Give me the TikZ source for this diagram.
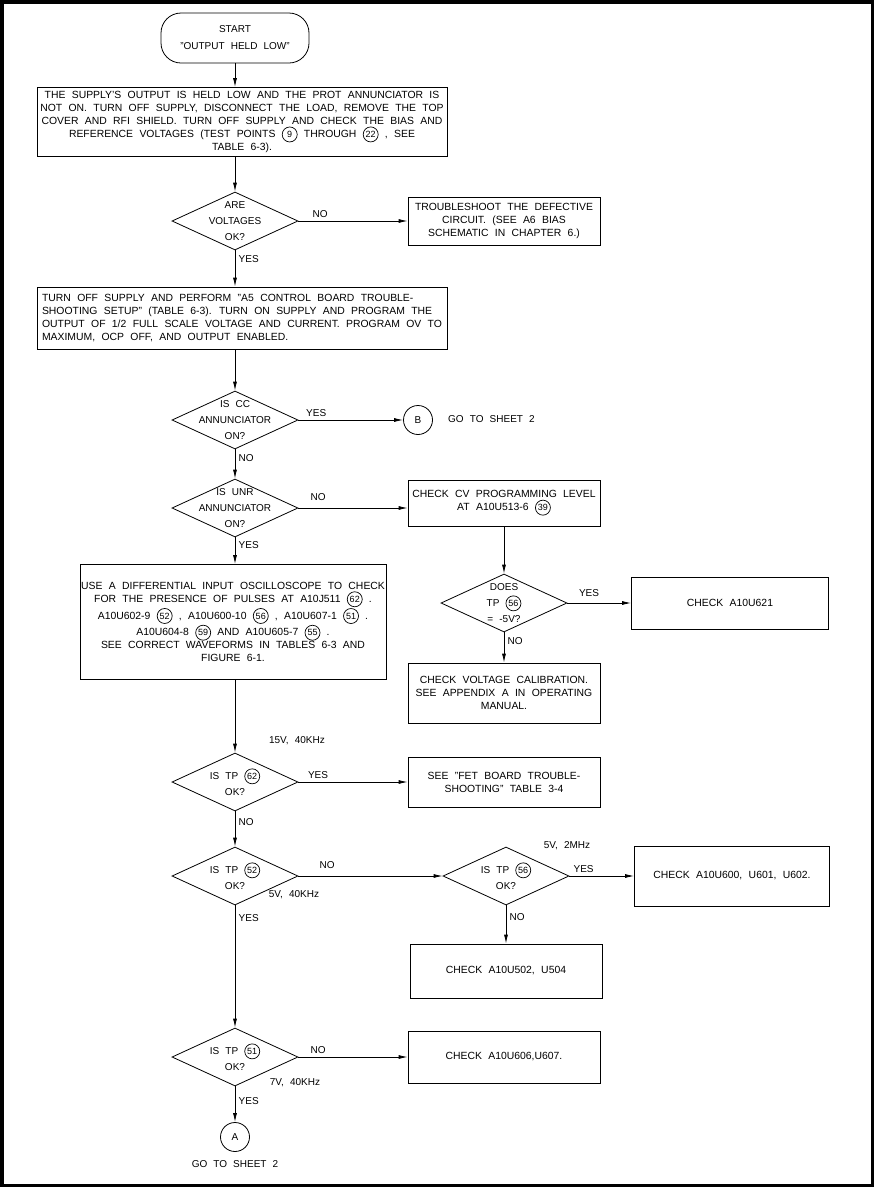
\documentclass[tikz,border=0pt]{standalone}
\usepackage{fontspec}
\setmainfont{Liberation Sans}[WordSpace=2.2]
\usepackage{tikz}
\usetikzlibrary{shapes,arrows,arrows.meta}
\usetikzlibrary{positioning}
\tikzstyle{block} = [rectangle, draw, line width=0.8pt, align=center, inner sep=2pt,
    font=\fontsize{10.4}{13}\selectfont]
\tikzstyle{terminal} = [rectangle, draw, line width=0.8pt, rounded corners=20pt,
    align=center, minimum width=148pt, minimum height=50pt, font=\fontsize{10}{17}\selectfont]
\tikzstyle{decision} = [diamond, draw, line width=0.8pt, minimum width=126pt,
    minimum height=58pt, inner sep=0pt]
\tikzstyle{dtext} = [align=center, font=\fontsize{10}{16}\selectfont]
\tikzstyle{connector} = [circle, draw, line width=0.8pt, minimum size=29pt, inner sep=0pt]
\tikzstyle{note} = [inner sep=1pt]
\tikzstyle{line} = [draw, line width=0.8pt, -{Latex[length=9pt,width=4pt]}]
\newcommand{\tpc}[1]{\tikz[baseline=(tpc.base)]\node[draw, circle, line width=0.7pt,
    inner sep=0.5pt, minimum size=15pt, font=\fontsize{9}{9}\selectfont] (tpc) {#1};}
\begin{document}
\begin{tikzpicture}[x=1pt, y=-1pt, node distance=90pt,
    every node/.style={font=\fontsize{10}{13}\selectfont}]
  \useasboundingbox (0,0) rectangle (874,1187);
  \draw[line width=3.5pt] (1.75,1.75) rectangle (872.25,1185.25);
  % Place nodes
  \node [terminal] (start) at (235,38) {START\\"OUTPUT HELD LOW"};
  \node [block, below of=start, node distance=84pt, xshift=7pt, minimum width=410pt,
    minimum height=69pt] (box1) {THE SUPPLY'S OUTPUT IS HELD LOW AND THE PROT ANNUNCIATOR IS\\
    NOT ON. TURN OFF SUPPLY, DISCONNECT THE LOAD, REMOVE THE TOP\\
    COVER AND RFI SHIELD. TURN OFF SUPPLY AND CHECK THE BIAS AND\\
    REFERENCE VOLTAGES (TEST POINTS \tpc{9} THROUGH \tpc{22} , SEE\\
    TABLE 6-3).};
  \node [decision, below of=start, node distance=183pt,
    label={[dtext]center:{ARE\\VOLTAGES\\OK?}}] (volt) {};
  \node [block, right of=volt, node distance=269pt, minimum width=192pt,
    minimum height=48pt] (fix) {TROUBLESHOOT THE DEFECTIVE\\CIRCUIT. (SEE A6 BIAS\\
    SCHEMATIC IN CHAPTER 6.)};
  \node [block, below of=volt, node distance=97pt, xshift=7pt, minimum width=410pt,
    minimum height=62pt, align=left] (box2) {TURN OFF SUPPLY AND PERFORM "A5 CONTROL BOARD TROUBLE-\\
    SHOOTING SETUP" (TABLE 6-3). TURN ON SUPPLY AND PROGRAM THE\\
    OUTPUT OF 1/2 FULL SCALE VOLTAGE AND CURRENT. PROGRAM OV TO\\
    MAXIMUM, OCP OFF, AND OUTPUT ENABLED.};
  \node [decision, below of=volt, node distance=199pt,
    label={[dtext]center:{IS CC\\ANNUNCIATOR\\ON?}}] (cc) {};
  \node [connector, right of=cc, node distance=183pt] (b) {B};
  \node [note, anchor=west] (gob) at (447,419) {GO TO SHEET 2};
  \node [decision, below of=cc, node distance=88pt,
    label={[dtext]center:{IS UNR\\ANNUNCIATOR\\ON?}}] (unr) {};
  \node [block, right of=unr, node distance=269pt, yshift=5pt, minimum width=192pt,
    minimum height=46pt] (cv) {CHECK CV PROGRAMMING LEVEL\\AT A10U513-6 \tpc{39}};
  \node [block, below of=unr, node distance=114pt, xshift=-2pt, minimum width=306pt,
    minimum height=115pt, inner xsep=1pt] (osc) {USE A DIFFERENTIAL INPUT OSCILLOSCOPE TO CHECK\\
    FOR THE PRESENCE OF PULSES AT A10J511 \tpc{62} .\\
    A10U602-9 \tpc{52} , A10U600-10 \tpc{56} , A10U607-1 \tpc{51} .\\
    A10U604-8 \tpc{59} AND A10U605-7 \tpc{55} .\\
    SEE CORRECT WAVEFORMS IN TABLES 6-3 AND\\
    FIGURE 6-1.};
  \node [decision, below of=cv, node distance=100pt,
    label={[dtext]center:{DOES\\TP \tpc{56}\\= -5V?}}] (does) {};
  \node [block, right of=does, node distance=226pt, minimum width=197pt,
    minimum height=52pt] (u621) {CHECK A10U621};
  \node [block, below of=does, node distance=90pt, minimum width=192pt,
    minimum height=60pt] (cvc) {CHECK VOLTAGE CALIBRATION.\\SEE APPENDIX A IN OPERATING\\MANUAL.};
  \node [decision, below of=unr, node distance=274pt,
    label={[dtext]center:{IS TP \tpc{62}\\OK?}}] (tp62) {};
  \node [note] (f62) at (297,741) {15V, 40KHz};
  \node [block, right of=tp62, node distance=269pt, minimum width=192pt,
    minimum height=50pt] (fet) {SEE "FET BOARD TROUBLE-\\SHOOTING" TABLE 3-4};
  \node [decision, below of=tp62, node distance=94pt,
    label={[dtext]center:{IS TP \tpc{52}\\OK?}}] (tp52) {};
  \node [note] (f52) at (294,895) {5V, 40KHz};
  \node [decision, right of=tp52, node distance=271pt,
    label={[dtext]center:{IS TP \tpc{56}\\OK?}}] (tp56) {};
  \node [note] (f56) at (567,846) {5V, 2MHz};
  \node [block, right of=tp56, node distance=226pt, minimum width=195pt,
    minimum height=60pt] (u600) {CHECK A10U600, U601, U602.};
  \node [block, below of=tp56, node distance=95pt, minimum width=192pt,
    minimum height=54pt] (u502) {CHECK A10U502, U504};
  \node [decision, below of=tp52, node distance=181pt,
    label={[dtext]center:{IS TP \tpc{51}\\OK?}}] (tp51) {};
  \node [note] (f51) at (295,1083) {7V, 40KHz};
  \node [block, right of=tp51, node distance=269pt, minimum width=192pt,
    minimum height=52pt] (u606) {CHECK A10U606,U607.};
  \node [connector, below of=tp51, node distance=80pt] (a) {A};
  \node [note, below of=a, node distance=27pt] (goa) {GO TO SHEET 2};
  % Draw edges
  \path [line] (start) -- (start |- box1.north);
  \path [line] (box1.south -| volt) -- (volt);
  \path [line] (volt) -- node [pos=0.2, above] (nvolt) {NO} (fix);
  \path [line] (volt) -- node [pos=0.25, right] (yvolt) {YES} (volt |- box2.north);
  \path [line] (box2.south -| cc) -- (cc);
  \path [line] (cc) -- node [pos=0.17, above] (ycc) {YES} (b);
  \path [line] (cc) -- node [pos=0.3, right] (ncc) {NO} (unr);
  \path [line] (unr) -- node [pos=0.18, above=4pt] (nunr) {NO} (unr -| cv.west);
  \path [line] (unr) -- node [pos=0.3, right] (yunr) {YES} (unr |- osc.north);
  \path [line] (cv) -- (does);
  \path [line] (does) -- node [pos=0.34, above=3pt] (ydoes) {YES} (u621);
  \path [line] (does) -- node [pos=0.3, right] (ndoes) {NO} (cvc);
  \path [line] (osc.south -| tp62) -- (tp62);
  \path [line] (tp62) -- node [pos=0.18, above] (y62) {YES} (fet);
  \path [line] (tp62) -- node [pos=0.3, right] (n62) {NO} (tp52);
  \path [line] (tp52) -- node [pos=0.2, above=4pt] (n52) {NO} (tp56);
  \path [line] (tp56) -- node [pos=0.22, above] (y56) {YES} (u600);
  \path [line] (tp56) -- node [pos=0.3, right] (n56) {NO} (u502);
  \path [line] (tp52) -- node [pos=0.1, right] (y52) {YES} (tp51);
  \path [line] (tp51) -- node [pos=0.18, above] (n51) {NO} (u606);
  \path [line] (tp51) -- node [pos=0.4, right] (y51) {YES} (a);
\end{tikzpicture}
\end{document}
